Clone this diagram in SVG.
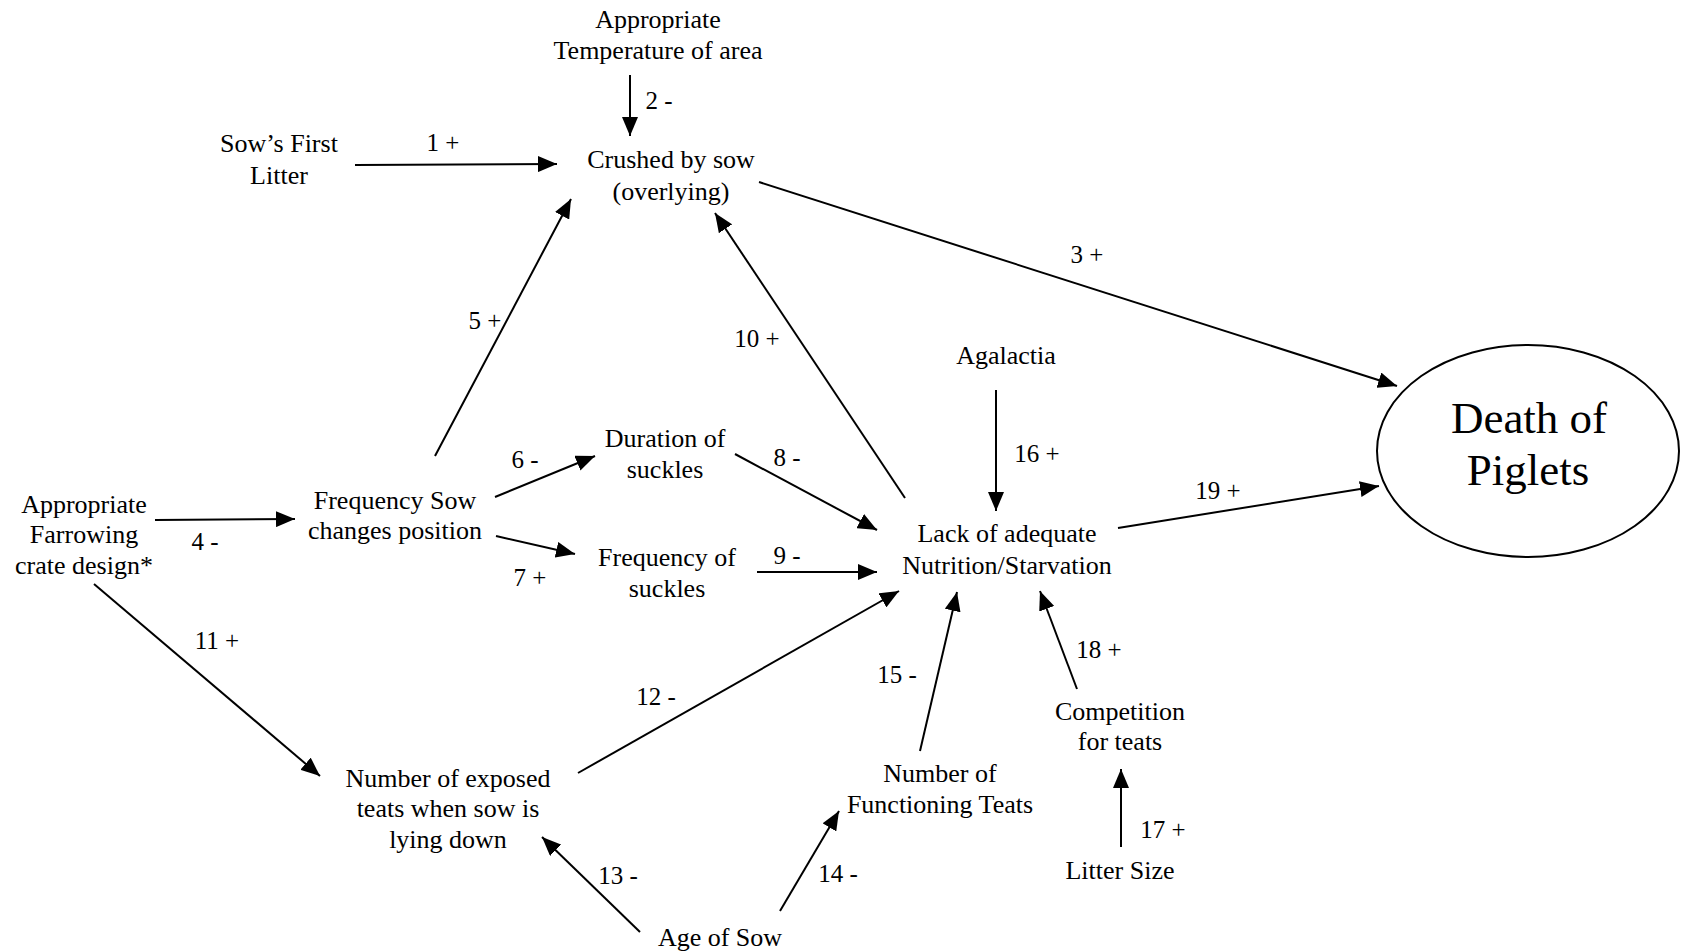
<svg xmlns="http://www.w3.org/2000/svg" width="1683" height="952" viewBox="0 0 1683 952">
<defs>
<marker id="ah" markerUnits="userSpaceOnUse" markerWidth="20" markerHeight="16" refX="19" refY="8" orient="auto">
<path d="M0,0 L19,8 L0,16 z" fill="#000"/>
</marker>
<style>
.n{font-family:"Liberation Serif","Times New Roman",serif;font-size:26px;fill:#000;text-anchor:middle}
.big{font-size:45px}
.l{font-family:"Liberation Serif","Times New Roman",serif;font-size:25px;fill:#000;text-anchor:middle}
.e{stroke:#000;stroke-width:2;fill:none;marker-end:url(#ah)}
</style>
</defs>
<rect width="1683" height="952" fill="#fff"/>
<g id="connectors">
<line class="e" x1="355" y1="165" x2="557" y2="164"/>
<line class="e" x1="630" y1="75" x2="630" y2="136"/>
<line class="e" x1="759" y1="182" x2="1397" y2="386"/>
<line class="e" x1="155" y1="520" x2="295" y2="519"/>
<line class="e" x1="435" y1="456" x2="571" y2="199"/>
<line class="e" x1="495" y1="497" x2="595" y2="456"/>
<line class="e" x1="496" y1="536" x2="575" y2="554"/>
<line class="e" x1="735" y1="454" x2="877" y2="530"/>
<line class="e" x1="757" y1="572" x2="877" y2="572"/>
<line class="e" x1="905" y1="498" x2="715" y2="213"/>
<line class="e" x1="94" y1="584" x2="320" y2="776"/>
<line class="e" x1="578" y1="773" x2="899" y2="591"/>
<line class="e" x1="640" y1="932" x2="542" y2="837"/>
<line class="e" x1="780" y1="911" x2="839" y2="811"/>
<line class="e" x1="920" y1="751" x2="957" y2="592"/>
<line class="e" x1="996" y1="390" x2="996" y2="511"/>
<line class="e" x1="1121" y1="847" x2="1121" y2="769"/>
<line class="e" x1="1077" y1="689" x2="1040" y2="591"/>
<line class="e" x1="1118" y1="528" x2="1379" y2="486"/>
<text class="l" x="443" y="151">1 +</text>
<text class="l" x="659" y="109">2 -</text>
<text class="l" x="1087" y="263">3 +</text>
<text class="l" x="205" y="550">4 -</text>
<text class="l" x="485" y="329">5 +</text>
<text class="l" x="525" y="468">6 -</text>
<text class="l" x="530" y="586">7 +</text>
<text class="l" x="787" y="466">8 -</text>
<text class="l" x="787" y="564">9 -</text>
<text class="l" x="757" y="347">10  +</text>
<text class="l" x="217" y="649">11 +</text>
<text class="l" x="656" y="705">12 -</text>
<text class="l" x="618" y="884">13 -</text>
<text class="l" x="838" y="882">14 -</text>
<text class="l" x="897" y="683">15 -</text>
<text class="l" x="1037" y="462">16 +</text>
<text class="l" x="1163" y="838">17 +</text>
<text class="l" x="1099" y="658">18 +</text>
<text class="l" x="1218" y="499">19 +</text>
</g>
<g id="temp"><text class="n" x="658" y="28">Appropriate</text><text class="n" x="658" y="59">Temperature of area</text></g>
<g id="firstlitter"><text class="n" x="279" y="152">Sow’s First</text><text class="n" x="279" y="184">Litter</text></g>
<g id="crushed"><text class="n" x="671" y="168">Crushed by sow</text><text class="n" x="671" y="200">(overlying)</text></g>
<g id="death"><ellipse cx="1528" cy="451" rx="151" ry="106" fill="none" stroke="#000" stroke-width="2"/><text class="n big" x="1529" y="433">Death of</text><text class="n big" x="1528" y="485">Piglets</text></g>
<g id="agalactia"><text class="n" x="1006" y="364">Agalactia</text></g>
<g id="crate"><text class="n" x="84" y="513">Appropriate</text><text class="n" x="84" y="543">Farrowing</text><text class="n" x="84" y="574">crate design*</text></g>
<g id="freqsow"><text class="n" x="395" y="509">Frequency Sow</text><text class="n" x="395" y="539">changes position</text></g>
<g id="duration"><text class="n" x="665" y="447">Duration of</text><text class="n" x="665" y="478">suckles</text></g>
<g id="freqsuckles"><text class="n" x="667" y="566">Frequency of</text><text class="n" x="667" y="597">suckles</text></g>
<g id="lack"><text class="n" x="1007" y="542">Lack of adequate</text><text class="n" x="1007" y="574">Nutrition/Starvation</text></g>
<g id="exposed"><text class="n" x="448" y="787">Number of exposed</text><text class="n" x="448" y="817">teats when sow is</text><text class="n" x="448" y="848">lying down</text></g>
<g id="age"><text class="n" x="720" y="946">Age of Sow</text></g>
<g id="functioning"><text class="n" x="940" y="782">Number of</text><text class="n" x="940" y="813">Functioning Teats</text></g>
<g id="competition"><text class="n" x="1120" y="720">Competition</text><text class="n" x="1120" y="750">for teats</text></g>
<g id="littersize"><text class="n" x="1120" y="879">Litter Size</text></g>
</svg>
